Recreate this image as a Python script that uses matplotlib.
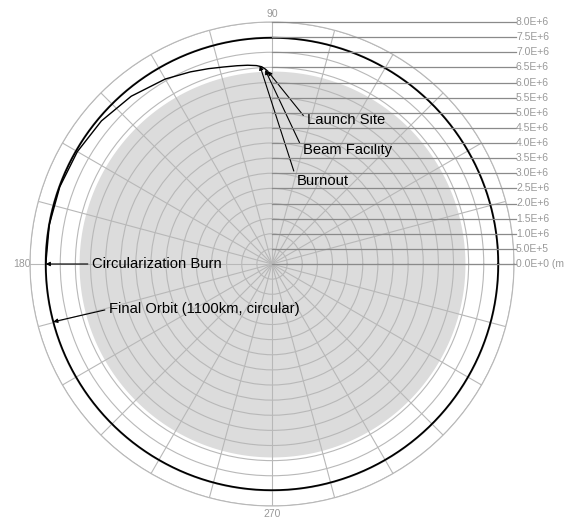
import matplotlib.pyplot as plt
import numpy as np

plt.rcParams['font.family'] = ['Liberation Sans', 'DejaVu Sans']

# radii in metres
R_EARTH = 6.378e6
R_ORBIT = 7.478e6          # 1100 km circular orbit
R_MAX = 8.0e6

# ascent / transfer trajectory (polar angle in degrees, radius in metres)
traj_deg = [91.3, 92.0, 93.0, 94.5, 97.0, 100.0, 104.0, 108.0, 113.0,
            120.0, 130.0, 140.0, 150.0, 160.0, 170.0, 180.0]
traj_r = [6.378e6, 6.45e6, 6.53e6, 6.58e6, 6.62e6, 6.655e6, 6.71e6, 6.79e6,
          6.90e6, 7.06e6, 7.24e6, 7.36e6, 7.43e6, 7.465e6, 7.476e6, 7.478e6]

# radial scale labels
r_ticks = [8.0e6, 7.5e6, 7.0e6, 6.5e6, 6.0e6, 5.5e6, 5.0e6, 4.5e6, 4.0e6,
           3.5e6, 3.0e6, 2.5e6, 2.0e6, 1.5e6, 1.0e6, 5.0e5, 0.0]
r_labels = ['8.0E+6', '7.5E+6', '7.0E+6', '6.5E+6', '6.0E+6', '5.5E+6',
            '5.0E+6', '4.5E+6', '4.0E+6', '3.5E+6', '3.0E+6', '2.5E+6',
            '2.0E+6', '1.5E+6', '1.0E+6', '5.0E+5', '0.0E+0 (m']

# event annotations: text, target (deg, r), text position in pixels from top-left
events = ['Launch Site', 'Beam Facility', 'Burnout',
          'Circularization Burn', 'Final Orbit (1100km, circular)']
event_deg = [91.3, 92.0, 93.5, 180.0, 194.8]
event_r = [6.378e6, 6.42e6, 6.57e6, R_ORBIT, R_ORBIT]
event_px = [(307, 120), (303, 150), (297, 181), (92, 264), (109, 309)]

W, H = 569, 518
fig = plt.figure(figsize=(W / 100, H / 100), dpi=100)

cx, cy, rad = 272, 264, 242
rect = [(cx - rad) / W, (H - cy - rad) / H, 2 * rad / W, 2 * rad / H]

ax = fig.add_axes(rect, projection='polar')
ax.set_ylim(0, R_MAX)

grid_col = '#b8b8b8'
theta_grid = np.arange(0, 360, 15)
theta_lbl = ['90' if t == 90 else '180' if t == 180 else '270' if t == 270 else ''
             for t in theta_grid]
ax.set_thetagrids(theta_grid, theta_lbl, color='#999999', fontsize=7.5)
ax.set_rgrids(np.arange(5e5, R_MAX + 1, 5e5))
ax.set_yticklabels([])
ax.tick_params(axis='x', pad=-4.5)
ax.grid(True, color=grid_col, linewidth=0.8)
ax.spines['polar'].set_color(grid_col)
ax.spines['polar'].set_linewidth(0.8)

# the Earth
circ = np.linspace(0, 2 * np.pi, 721)
ax.fill_between(circ, 0, R_EARTH, color='#dcdcdc', zorder=0.5, linewidth=0)

# final orbit and trajectory
ax.plot(circ, np.full_like(circ, R_ORBIT), color='black', linewidth=1.3, zorder=3)
ax.plot(np.deg2rad(traj_deg), traj_r, color='black', linewidth=1.0, zorder=3)

for txt, d, r, (px, py) in zip(events, event_deg, event_r, event_px):
    ax.annotate(txt, xy=(np.deg2rad(d), r), xycoords='data',
                xytext=(px, H - py), textcoords='figure pixels',
                ha='left', va='center', fontsize=10.6, color='black',
                arrowprops=dict(arrowstyle='-|>', color='black', lw=0.8,
                                mutation_scale=6, shrinkA=1, shrinkB=0,
                                relpos=(0, 0.5)),
                zorder=5)

# horizontal scale lines on the right
ax2 = fig.add_axes(rect)
ax2.set_xlim(-R_MAX, R_MAX)
ax2.set_ylim(-R_MAX, R_MAX)
ax2.axis('off')
ax2.patch.set_visible(False)
x_end = (516 - cx) / rad * R_MAX
for r, lab in zip(r_ticks, r_labels):
    ax2.plot([0, x_end], [r, r], color='#8a8a8a', linewidth=0.9, clip_on=False)
    ax2.text(x_end, r, lab, ha='left', va='center', fontsize=7.5,
             color='#999999', clip_on=False)

fig.savefig('out.png', dpi=100)
